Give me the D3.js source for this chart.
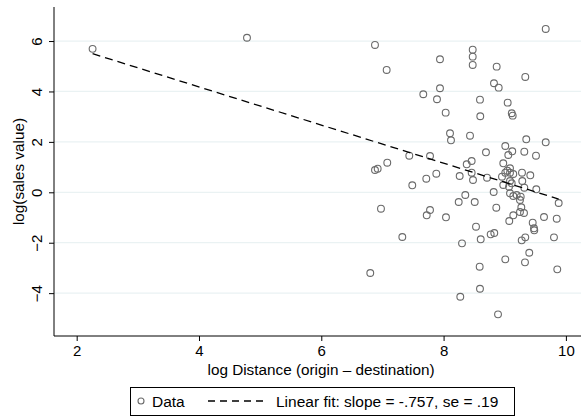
<!DOCTYPE html>
<html>
<head>
<meta charset="utf-8">
<script src="https://cdn.jsdelivr.net/npm/d3@7"></script>
<style>
  body { margin: 0; background: #fff; }
  text { font-family: "Liberation Sans", Arial, sans-serif; }
</style>
</head>
<body>
<script>
// log distance (x) and log sales value (y)
var logDistance = [
  2.26, 4.785, 6.878, 7.069, 7.941, 8.476, 8.476, 8.476, 8.868, 9.670,
  9.336, 8.824, 8.901, 7.668, 7.941, 7.892, 8.595, 9.048, 8.034, 8.600,
  9.114, 9.130, 8.105, 8.121, 8.432, 9.352, 9.670, 9.009, 9.123, 9.058,
  9.320, 9.511, 8.693, 7.439, 7.778, 8.459, 8.378, 8.976, 9.086, 9.042,
  9.009, 9.086, 9.140, 9.282, 9.418, 7.881, 7.717, 7.488, 8.263, 8.459,
  8.481, 8.710, 8.955, 8.976, 9.086, 9.287, 9.070, 9.320, 9.516, 9.086,
  9.140, 9.261, 9.249, 9.882, 8.819, 8.355, 8.247, 8.509, 8.862, 9.271,
  9.249, 9.315, 9.140, 9.074, 9.642, 9.850, 7.778, 7.724, 8.039, 7.325,
  8.530, 8.607, 8.770, 8.829, 8.301, 9.457, 9.478, 9.483, 9.277, 9.336,
  9.805, 9.401, 9.009, 9.331, 8.590, 9.859, 8.595, 8.273, 8.890, 6.801,
  6.976, 6.878, 6.922, 7.079, 9.114, 9.195
];
var logSales = [
  5.69, 6.13, 5.845, 4.853, 5.278, 5.659, 5.381, 5.052, 4.984, 6.48,
  4.575, 4.325, 4.151, 3.889, 4.127, 3.690, 3.675, 3.556, 3.159, 3.016,
  3.135, 3.040, 2.341, 2.063, 2.246, 2.103, 1.984, 1.837, 1.627, 1.480,
  1.611, 1.452, 1.587, 1.452, 1.440, 1.242, 1.111, 1.151, 0.952, 0.857,
  0.778, 0.778, 0.726, 0.778, 0.675, 0.738, 0.540, 0.278, 0.647, 0.778,
  0.488, 0.579, 0.619, 0.290, 0.448, 0.448, 0.222, 0.183, 0.119, -0.040,
  -0.147, -0.175, -0.306, -0.425, 0.012, -0.107, -0.385, -0.385, -0.611, -0.595,
  -0.782, -0.821, -0.913, -1.139, -0.980, -1.048, -0.702, -0.913, -0.992, -1.774,
  -1.365, -1.865, -1.667, -1.615, -2.024, -1.206, -1.429, -1.508, -1.905, -1.786,
  -1.786, -2.397, -2.659, -2.778, -2.952, -3.056, -3.825, -4.143, -4.841, -3.202,
  -0.651, 0.885, 0.937, 1.175, 0.357, -0.107
];
var xTicks = [2, 4, 6, 8, 10];
var yTicks = [-4, -2, 0, 2, 4, 6];
var fitSlope = -0.757;
var fitIntercept = 7.21;
var legendLabels = ["Data", "Linear fit: slope = -.757, se = .19"];

var width = 581, height = 417;
var plotL = 54, plotR = 581, plotT = 7, plotB = 336;

var svg = d3.select("body").append("svg")
            .attr("width", width)
            .attr("height", height);

var x = d3.scaleLinear().domain([1.629, 10.247]).range([plotL, plotR]);
var y = d3.scaleLinear().domain([-5.70, 7.35]).range([plotB, plotT]);

// grid lines
svg.append("g").selectAll("line")
   .data(yTicks).enter().append("line")
   .attr("x1", plotL).attr("x2", plotR)
   .attr("y1", function (d) { return y(d); })
   .attr("y2", function (d) { return y(d); })
   .attr("stroke", "#eaf2f3")
   .attr("stroke-width", 1.2);

// y axis
var yAxis = svg.append("g")
               .attr("transform", "translate(" + plotL + ",0)")
               .call(d3.axisLeft(y).tickValues(yTicks).tickSize(5).tickSizeOuter(0).tickFormat(d3.format("d")));
yAxis.select(".domain").remove();
yAxis.append("line")
     .attr("x1", 0).attr("x2", 0)
     .attr("y1", plotT).attr("y2", plotB)
     .attr("stroke", "#000");
yAxis.selectAll(".tick line").attr("stroke", "#000");
yAxis.selectAll(".tick text")
     .attr("transform", "rotate(-90)")
     .attr("x", 0).attr("y", -17)
     .attr("dy", "0.35em")
     .attr("text-anchor", "middle")
     .attr("font-size", 15)
     .attr("fill", "#000")
     .style("font-family", "Liberation Sans, Arial, sans-serif");

// x axis
var xAxis = svg.append("g")
               .attr("transform", "translate(0," + plotB + ")")
               .call(d3.axisBottom(x).tickValues(xTicks).tickSize(5).tickSizeOuter(0));
xAxis.select(".domain").remove();
xAxis.append("line")
     .attr("x1", plotL).attr("x2", plotR)
     .attr("y1", 0).attr("y2", 0)
     .attr("stroke", "#000");
xAxis.selectAll(".tick line").attr("stroke", "#000");
xAxis.selectAll(".tick text")
     .attr("y", 9)
     .attr("font-size", 15)
     .attr("fill", "#000")
     .style("font-family", "Liberation Sans, Arial, sans-serif");

// axis titles
svg.append("text")
   .attr("x", 321).attr("y", 375)
   .attr("text-anchor", "middle")
   .attr("font-size", 15.3)
   .text("log Distance (origin \u2013 destination)");

svg.append("text")
   .attr("transform", "translate(24," + ((plotT + plotB) / 2) + ") rotate(-90)")
   .attr("text-anchor", "middle")
   .attr("font-size", 15.3)
   .text("log(sales value)");

// points
var pts = logDistance.map(function (d, i) { return { x: d, y: logSales[i] }; });
svg.append("g").selectAll("circle")
   .data(pts).enter().append("circle")
   .attr("cx", function (d) { return x(d.x); })
   .attr("cy", function (d) { return y(d.y); })
   .attr("r", 3.4)
   .attr("fill", "none")
   .attr("stroke", "#6a6a6a")
   .attr("stroke-width", 1.1);

// fit line
var xr = d3.extent(logDistance);
svg.append("line")
   .attr("x1", x(xr[0])).attr("y1", y(fitIntercept + fitSlope * xr[0]))
   .attr("x2", x(xr[1])).attr("y2", y(fitIntercept + fitSlope * xr[1]))
   .attr("stroke", "#000")
   .attr("stroke-width", 1.3)
   .attr("stroke-dasharray", "8,5");

// legend
var lg = svg.append("g");
lg.append("rect")
  .attr("x", 130.5).attr("y", 387.5)
  .attr("width", 384).attr("height", 28)
  .attr("fill", "#fff").attr("stroke", "#000");
lg.append("circle")
  .attr("cx", 141).attr("cy", 401).attr("r", 3)
  .attr("fill", "none").attr("stroke", "#6a6a6a").attr("stroke-width", 1.1);
lg.append("text")
  .attr("x", 152).attr("y", 406.5)
  .attr("font-size", 15.5)
  .text(legendLabels[0]);
lg.append("line")
  .attr("x1", 208).attr("x2", 266)
  .attr("y1", 401).attr("y2", 401)
  .attr("stroke", "#000").attr("stroke-width", 1.3)
  .attr("stroke-dasharray", "7,5");
lg.append("text")
  .attr("x", 276).attr("y", 406.5)
  .attr("font-size", 15.5)
  .text(legendLabels[1]);
</script>
</body>
</html>
